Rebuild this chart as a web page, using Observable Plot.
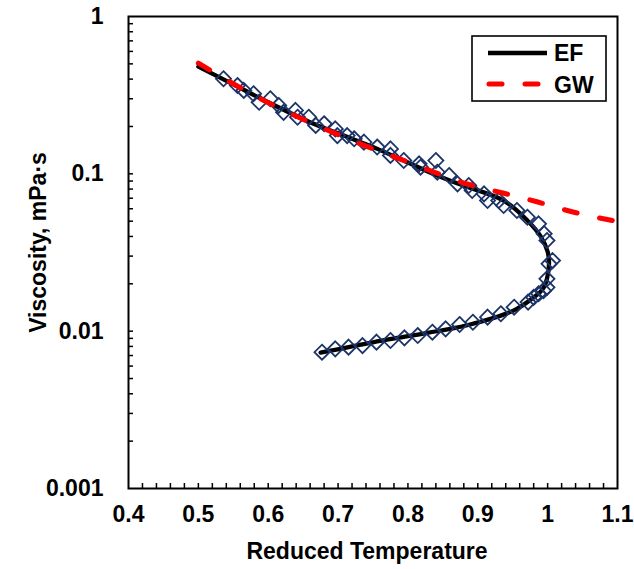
<!DOCTYPE html>
<html>
<head>
<meta charset="utf-8">
<script src="https://cdn.jsdelivr.net/npm/d3@7"></script>
<script src="https://cdn.jsdelivr.net/npm/@observablehq/plot@0.6"></script>
<style>
  html, body { margin: 0; padding: 0; background: #fff; }
  #wrap { position: relative; width: 634px; height: 569px; font-family: "Liberation Sans", Arial, sans-serif; }
  #legend { position: absolute; left: 471px; top: 35px; }
</style>
</head>
<body>
<div id="wrap"></div>
<script>
// ---- Data ----
// EF correlation (black solid line), ordered along the curve
const efTr = [0.500, 0.550, 0.600, 0.665, 0.700, 0.761, 0.800, 0.842, 0.880, 0.937, 0.971, 0.990, 1.000, 1.002, 0.999, 0.993, 0.980, 0.951, 0.885, 0.800, 0.750, 0.675];
const efMu = [0.480, 0.370, 0.285, 0.208, 0.181, 0.141, 0.118, 0.0975, 0.084, 0.0676, 0.0505, 0.040, 0.032, 0.027, 0.0215, 0.0185, 0.0164, 0.0135, 0.0109, 0.0093, 0.0085, 0.0073];

// GW correlation (red dashed line)
const gwTr = [0.50, 0.60, 0.66, 0.74, 0.80, 0.885, 0.936, 0.986, 1.028, 1.10];
const gwMu = [0.505, 0.283, 0.212, 0.150, 0.119, 0.0862, 0.0755, 0.0662, 0.0585, 0.0497];

// Data points (open diamonds): saturated liquid branch then vapour branch
const ptTr = [0.536, 0.556, 0.565, 0.579, 0.587, 0.603, 0.615, 0.622, 0.639, 0.642, 0.658, 0.668, 0.680, 0.696, 0.699, 0.713, 0.723, 0.737, 0.756, 0.775, 0.775, 0.794, 0.816, 0.818, 0.840, 0.842, 0.859, 0.871, 0.887, 0.892, 0.909, 0.914, 0.930, 0.937, 0.956, 0.971, 0.987, 0.995, 0.999, 1.007,
              1.002, 0.999, 0.999, 0.994, 0.987, 0.980, 0.972, 0.952, 0.933, 0.914, 0.893, 0.874, 0.854, 0.835, 0.814, 0.795, 0.775, 0.755, 0.735, 0.715, 0.696, 0.677];
const ptMu = [0.402, 0.364, 0.339, 0.323, 0.285, 0.300, 0.272, 0.246, 0.253, 0.229, 0.229, 0.203, 0.208, 0.193, 0.175, 0.175, 0.167, 0.159, 0.148, 0.144, 0.131, 0.1215, 0.1158, 0.1102, 0.1215, 0.1024, 0.0976, 0.0864, 0.0843, 0.0783, 0.0746, 0.0677, 0.0677, 0.0629, 0.0585, 0.0530, 0.0481, 0.0416, 0.0377, 0.0281,
              0.0268, 0.0215, 0.0190, 0.0181, 0.0173, 0.0164, 0.0153, 0.0142, 0.0129, 0.01227, 0.0114, 0.01102, 0.01035, 0.00985, 0.00938, 0.00907, 0.00872, 0.00851, 0.0081, 0.00791, 0.00772, 0.00735];

// Axis ticks
const xTickValues = [0.4, 0.5, 0.6, 0.7, 0.8, 0.9, 1.0, 1.1];
const xTickLabels = ["0.4", "0.5", "0.6", "0.7", "0.8", "0.9", "1", "1.1"];
const xMinorTicks = [0.42, 0.44, 0.46, 0.48, 0.5, 0.52, 0.54, 0.56, 0.58, 0.6, 0.62, 0.64, 0.66, 0.68, 0.7, 0.72, 0.74, 0.76, 0.78, 0.8, 0.82, 0.84, 0.86, 0.88, 0.9, 0.92, 0.94, 0.96, 0.98, 1.0, 1.02, 1.04, 1.06, 1.08];
const yTickValues = [0.001, 0.01, 0.1, 1];
const yTickLabels = ["0.001", "0.01", "0.1", "1"];
const yMinorTicks = [0.002, 0.003, 0.004, 0.005, 0.006, 0.007, 0.008, 0.009, 0.01, 0.02, 0.03, 0.04, 0.05, 0.06, 0.07, 0.08, 0.09, 0.1, 0.2, 0.3, 0.4, 0.5, 0.6, 0.7, 0.8, 0.9];

const xLabel = "Reduced Temperature";
const yLabel = "Viscosity, mPa\u00B7s";
const seriesNames = ["EF", "GW"];

// ---- Build tables ----
const ef = efTr.map((t, i) => ({tr: t, mu: efMu[i]}));
const gw = gwTr.map((t, i) => ({tr: t, mu: gwMu[i]}));
const pts = ptTr.map((t, i) => ({tr: t, mu: ptMu[i]}));

const W = 634, H = 569, mL = 128, mR = 17, mT = 16, mB = 81;
const plotW = W - mL - mR, plotH = H - mT - mB;
const FS = 23;

const chart = Plot.plot({
  width: W, height: H,
  marginLeft: mL, marginRight: mR, marginTop: mT, marginBottom: mB,
  style: {fontFamily: "'Liberation Sans', Arial, sans-serif", fontWeight: "bold", fontSize: FS + "px", color: "#000", background: "#fff"},
  x: {domain: [0.4, 1.1]},
  y: {type: "log", domain: [0.001, 1]},
  marks: [
    Plot.axisX({ticks: xTickValues, tickSize: 0, tickPadding: 17, tickFormat: d => xTickLabels[xTickValues.indexOf(d)], label: null, fontSize: FS, fontWeight: "bold"}),
    Plot.axisY({ticks: yTickValues, tickSize: 0, tickPadding: 25, tickFormat: d => yTickLabels[yTickValues.indexOf(d)], label: null, fontSize: FS, fontWeight: "bold"}),
    Plot.tickX(xMinorTicks, {x: d => d, insetTop: plotH - 5, stroke: "#000", strokeWidth: 1.5}),
    Plot.tickY(yMinorTicks, {y: d => d, insetRight: plotW - 5, stroke: "#000", strokeWidth: 1.5}),
    Plot.lineY(ef, {x: "tr", y: "mu", stroke: "#000", strokeWidth: 4.3, curve: "catmull-rom"}),
    Plot.dot(pts, {x: "tr", y: "mu", symbol: "diamond2", r: 6.8, stroke: "#1C3468", strokeWidth: 1.8, fill: "none"}),
    Plot.lineY(gw, {x: "tr", y: "mu", stroke: "#FF0000", strokeWidth: 5, strokeDasharray: "13,23", strokeLinecap: "round", curve: "monotone-x"}),
    Plot.frame({stroke: "#000", strokeWidth: 2}),
    Plot.text([xLabel], {frameAnchor: "bottom", dx: -6, dy: 63, text: d => d, fontSize: FS, fontWeight: "bold", textAnchor: "middle", lineAnchor: "middle"}),
    Plot.text([yLabel], {frameAnchor: "left", dx: -90, dy: -10, rotate: -90, text: d => d, fontSize: FS, fontWeight: "bold", textAnchor: "middle", lineAnchor: "middle"})
  ]
});

const wrap = document.getElementById("wrap");
wrap.appendChild(chart);

// Legend (inside the plot, top right)
const ns = "http://www.w3.org/2000/svg";
const leg = document.createElementNS(ns, "svg");
leg.setAttribute("id", "legend");
leg.setAttribute("width", 137);
leg.setAttribute("height", 68);
leg.innerHTML = `
  <rect x="1" y="1" width="134" height="65" fill="#fff" stroke="#000" stroke-width="1.6"/>
  <line x1="17" y1="18" x2="76" y2="18" stroke="#000" stroke-width="4.3"/>
  <line x1="18" y1="49" x2="74" y2="49" stroke="#FF0000" stroke-width="5" stroke-dasharray="13,23" stroke-linecap="round"/>
  <text x="83" y="26" font-family="'Liberation Sans', Arial, sans-serif" font-weight="bold" font-size="${FS}">${seriesNames[0]}</text>
  <text x="83" y="58" font-family="'Liberation Sans', Arial, sans-serif" font-weight="bold" font-size="${FS}">${seriesNames[1]}</text>`;
wrap.appendChild(leg);
</script>
</body>
</html>
